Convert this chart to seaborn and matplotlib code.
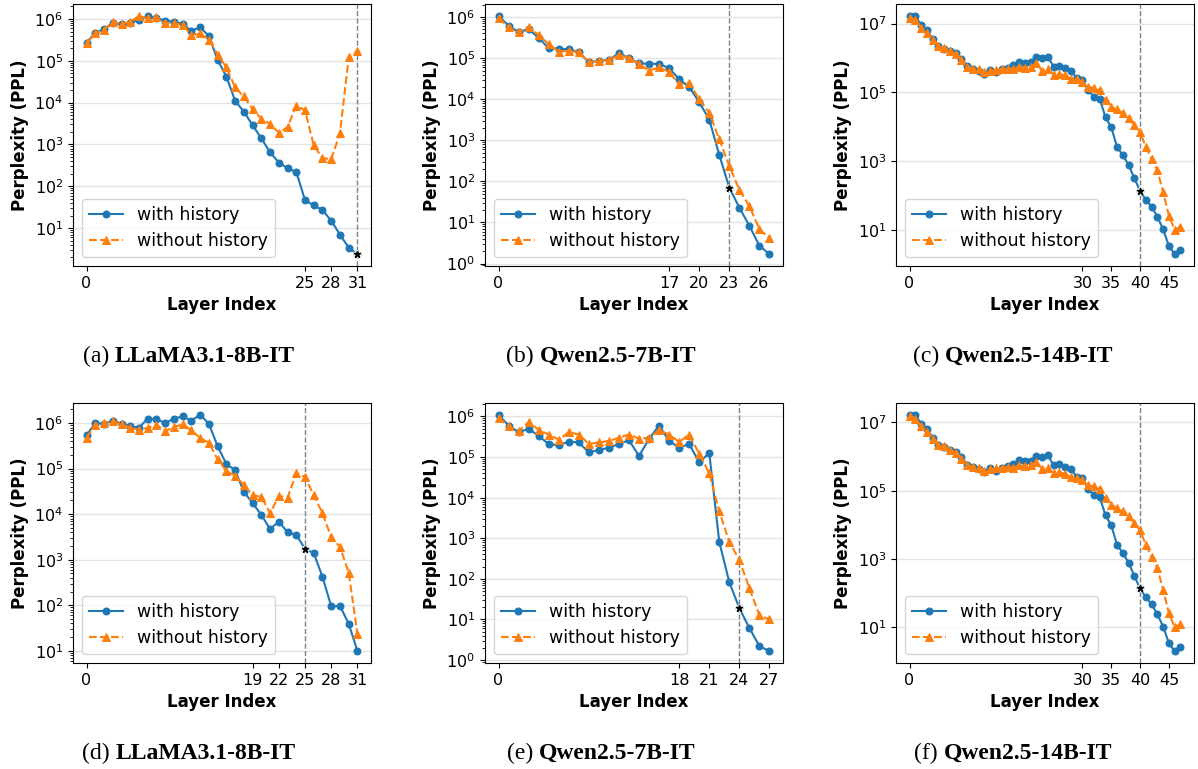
import matplotlib
matplotlib.use("Agg")
import matplotlib.pyplot as plt
import matplotlib.ticker as mticker
import seaborn as sns

plt.rcParams['font.family'] = ['DejaVu Sans']

BLUE = '#1f77b4'
ORANGE = '#ff7f0e'

# (a) LLaMA3.1-8B-IT, top row
llama_top_with = [2.7e5, 4.7e5, 5.6e5, 8.0e5, 7.5e5, 8.0e5, 9.5e5, 1.18e6, 1.04e6, 9.1e5,
                  8.6e5, 7.6e5, 5.2e5, 6.3e5, 3.9e5, 1.05e5, 4.2e4, 1.1e4, 6.1e3, 2.9e3,
                  1.4e3, 650, 370, 270, 220, 47, 35, 27, 15, 7.0, 3.4, 2.4]
llama_top_without = [2.6e5, 4.5e5, 5.5e5, 8.5e5, 7.6e5, 8.5e5, 1.18e6, 1.04e6, 1.1e6, 7.9e5,
                     7.9e5, 7.2e5, 4.1e5, 4.5e5, 3.2e5, 1.4e5, 7.0e4, 2.3e4, 1.4e4, 7.0e3,
                     4.1e3, 3.1e3, 1.9e3, 2.6e3, 8.5e3, 6.5e3, 950, 475, 440, 1.9e3, 1.2e5, 1.7e5]

# (b) Qwen2.5-7B-IT, top row
qwen7_top_with = [1.07e6, 6.2e5, 4.3e5, 5.1e5, 3.1e5, 1.75e5, 1.7e5, 1.65e5, 1.4e5, 8.0e4,
                  8.7e4, 9.1e4, 1.33e5, 1.0e5, 7.5e4, 7.3e4, 7.3e4, 5.7e4, 3.1e4, 2.0e4,
                  8.5e3, 3.2e3, 440, 70, 23, 8.3, 2.7, 1.7]
qwen7_top_without = [9.5e5, 5.7e5, 4.3e5, 5.9e5, 3.6e5, 2.2e5, 1.45e5, 1.5e5, 1.4e5, 8.0e4,
                     8.7e4, 9.0e4, 1.2e5, 1.0e5, 7.3e4, 5.0e4, 6.0e4, 4.6e4, 2.3e4, 2.5e4,
                     1.0e4, 4.7e3, 1.05e3, 240, 62, 25, 6.9, 4.1]

# (c)/(f) Qwen2.5-14B-IT
qwen14_with = [1.67e7, 1.67e7, 9.0e6, 6.6e6, 3.6e6, 2.2e6, 1.87e6, 1.6e6, 1.4e6, 9.6e5,
               5.8e5, 4.9e5, 4.3e5, 3.5e5, 4.5e5, 3.9e5, 4.7e5, 5.2e5, 6.1e5, 7.7e5,
               7.3e5, 7.6e5, 1.07e6, 1.0e6, 1.1e6, 5.5e5, 6.0e5, 5.0e5, 4.2e5, 2.6e5,
               2.3e5, 1.15e5, 7.4e4, 6.4e4, 1.9e4, 9.6e3, 2.6e3, 1.5e3, 780, 320,
               137, 75, 48, 24, 10.5, 3.4, 2.0, 2.7]
qwen14_without = [1.5e7, 1.3e7, 7.6e6, 5.2e6, 3.3e6, 2.2e6, 2.0e6, 1.6e6, 1.3e6, 8.7e5,
                  5.6e5, 4.9e5, 4.7e5, 3.9e5, 4.2e5, 4.5e5, 4.7e5, 4.9e5, 4.7e5, 5.5e5,
                  5.2e5, 5.5e5, 7.0e5, 4.2e5, 4.7e5, 3.3e5, 3.5e5, 3.1e5, 2.5e5, 2.4e5,
                  2.0e5, 1.45e5, 1.35e5, 1.15e5, 6.1e4, 3.7e4, 3.2e4, 2.5e4, 1.8e4, 1.15e4,
                  6.9e3, 2.6e3, 1.15e3, 540, 125, 26, 10, 12.5]

# (d) LLaMA3.1-8B-IT, bottom row
llama_bot_with = [5.4e5, 1.0e6, 9.7e5, 1.14e6, 9.7e5, 8.5e5, 7.9e5, 1.26e6, 1.22e6, 1.0e6,
                  1.26e6, 1.4e6, 1.14e6, 1.52e6, 9.7e5, 3.1e5, 1.26e5, 9.3e4, 3.1e4, 1.75e4,
                  9.7e3, 4.7e3, 6.9e3, 4.0e3, 3.5e3, 1.74e3, 1.4e3, 420, 94, 97, 39, 9.8]
llama_bot_without = [4.8e5, 9.2e5, 1.0e6, 1.1e6, 9.4e5, 7.9e5, 7.1e5, 7.9e5, 9.2e5, 6.7e5,
                     8.2e5, 9.4e5, 6.9e5, 4.7e5, 3.7e5, 1.6e5, 8.9e4, 6.9e4, 4.4e4, 2.6e4,
                     2.4e4, 1.05e4, 2.5e4, 2.3e4, 7.9e4, 6.6e4, 2.6e4, 1.05e4, 3.1e3, 1.9e3, 520, 23]

# (e) Qwen2.5-7B-IT, bottom row
qwen7_bot_with = [1.1e6, 6.0e5, 4.1e5, 5.0e5, 3.3e5, 2.1e5, 1.95e5, 2.4e5, 2.3e5, 1.3e5,
                  1.5e5, 1.7e5, 2.1e5, 2.6e5, 1.07e5, 2.8e5, 6.0e5, 2.5e5, 1.7e5, 2.1e5,
                  7.4e4, 1.27e5, 810, 82, 19, 6.1, 2.2, 1.65]
qwen7_bot_without = [9.3e5, 5.7e5, 4.4e5, 7.3e5, 4.7e5, 3.6e5, 2.7e5, 4.1e5, 3.6e5, 2.1e5,
                     2.3e5, 2.5e5, 3.0e5, 3.6e5, 2.85e5, 3.0e5, 4.6e5, 3.6e5, 2.35e5, 3.6e5,
                     1.2e5, 4.0e4, 4.6e3, 810, 290, 59, 12.5, 10]

tags = ['(a)', '(b)', '(c)', '(d)', '(e)', '(f)']
models = ['LLaMA3.1-8B-IT', 'Qwen2.5-7B-IT', 'Qwen2.5-14B-IT',
          'LLaMA3.1-8B-IT', 'Qwen2.5-7B-IT', 'Qwen2.5-14B-IT']
with_hist = [llama_top_with, qwen7_top_with, qwen14_with,
             llama_bot_with, qwen7_bot_with, qwen14_with]
without_hist = [llama_top_without, qwen7_top_without, qwen14_without,
                llama_bot_without, qwen7_bot_without, qwen14_without]
xticks = [[0, 25, 28, 31], [0, 17, 20, 23, 26], [0, 30, 35, 40, 45],
          [0, 19, 22, 25, 28, 31], [0, 18, 21, 24, 27], [0, 30, 35, 40, 45]]
split_layer = [31, 23, 40, 25, 24, 40]

W, H = 1198, 769
fig = plt.figure(figsize=(W / 100, H / 100), dpi=100)

lefts = [73, 485, 896]
rows = [(4, 266), (403, 663)]
cap_x = [189, 601, 1013]
cap_y = [362, 759]

for i in range(6):
    r, c = divmod(i, 3)
    top, bot = rows[r]
    ax = fig.add_axes([lefts[c] / W, 1 - bot / H, 298 / W, (bot - top) / H])
    layers = list(range(len(with_hist[i])))
    ax.set_yscale('log')
    sns.lineplot(x=layers, y=with_hist[i], ax=ax, color=BLUE, marker='o',
                 markersize=5, markeredgecolor=BLUE, linewidth=1.5, label='with history')
    sns.lineplot(x=layers, y=without_hist[i], ax=ax, color=ORANGE, marker='^',
                 markersize=6, markeredgecolor=ORANGE, linewidth=1.5, linestyle='--',
                 label='without history')
    s = split_layer[i]
    ax.axvline(s, color='gray', linestyle='--', linewidth=1, zorder=1)
    ax.plot([s], [with_hist[i][s]], marker='o', color='white', markersize=5.5,
            markeredgecolor='#dddddd', markeredgewidth=0.5, zorder=5)
    ax.plot([s], [with_hist[i][s]], marker='*', color='black', markersize=5, zorder=6)

    ax.set_xticks(xticks[i])
    if c == 2:
        ax.set_yticks([1e1, 1e3, 1e5, 1e7])
        ax.yaxis.set_minor_locator(mticker.NullLocator())
    ax.tick_params(labelsize=11.5)
    ax.grid(axis='y', which='major', color='#e3e3e3', linewidth=1)
    ax.set_axisbelow(True)
    ax.set_xlabel('Layer Index', fontsize=12, fontweight='bold')
    ax.set_ylabel('Perplexity (PPL)', fontsize=12, fontweight='bold')
    ax.legend(loc='lower left', fontsize=12.5)

    # caption: regular tag + bold model name, centered as a whole
    rend = fig.canvas.get_renderer()
    t1 = fig.text(0, 0, tags[i], fontsize=17, family='Liberation Serif')
    t2 = fig.text(0, 0, models[i], fontsize=17, family='Liberation Serif', fontweight='bold')
    w1 = t1.get_window_extent(rend).width
    w2 = t2.get_window_extent(rend).width
    gap = 6
    x0 = cap_x[c] - (w1 + gap + w2) / 2
    yb = 1 - cap_y[r] / H
    t1.set_position((x0 / W, yb))
    t1.set_va('baseline')
    t2.set_position(((x0 + w1 + gap) / W, yb))
    t2.set_va('baseline')

fig.savefig('out.png', dpi=100)
